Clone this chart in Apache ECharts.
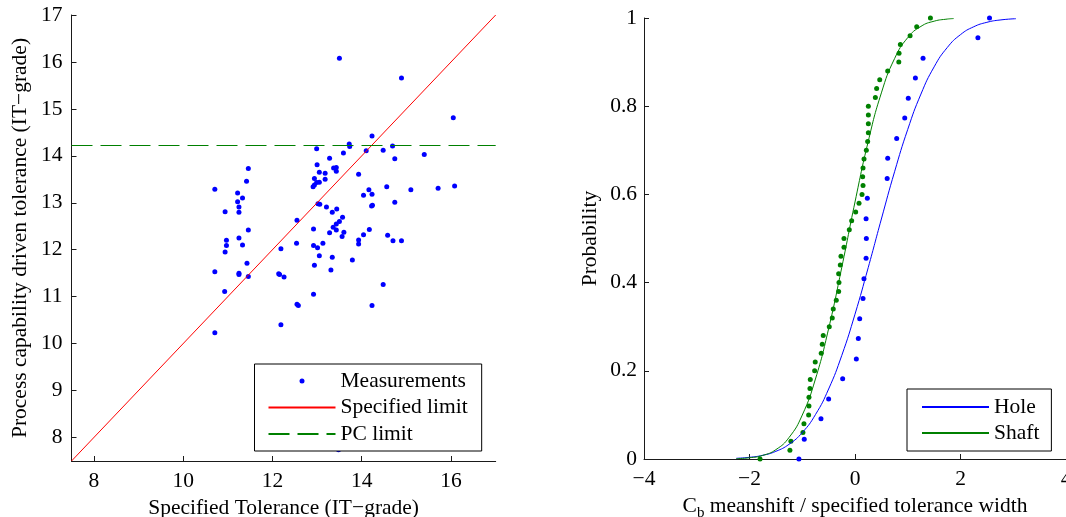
<!DOCTYPE html>
<html>
<head>
<meta charset="utf-8">
<script src="https://cdn.jsdelivr.net/npm/echarts@6/dist/echarts.min.js"></script>
<style>
html,body{margin:0;padding:0;background:#fff;}
#chart{width:1066px;height:517px;}
</style>
</head>
<body>
<div id="chart"></div>
<script>
// ---------- Left panel data ----------
const measX = [13.50,14.89,16.05,14.23,14.69,13.72,13.73,12.99,13.59,14.10,14.48,15.40,14.74,13.28,13.00,13.37,13.43,13.43,13.05,13.18,13.93,12.94,13.18,13.05,12.99,12.91,12.94,14.56,15.71,16.08,15.10,14.16,14.23,14.04,14.74,13.02,13.06,14.24,14.22,13.21,13.44,13.34,13.57,12.55,13.50,13.43,13.36,13.43,12.92,14.17,13.28,13.60,14.04,14.58,13.56,13.93,14.70,14.89,13.93,13.13,12.54,12.92,13.01,12.19,13.05,13.34,13.79,12.94,13.31,12.14,12.16,12.26,14.48,12.92,12.55,12.58,14.23,12.19,13.48,
  10.71,10.71,10.71,10.94,10.97,10.97,10.94,10.93,11.22,11.22,11.25,11.25,11.33,11.42,11.46,11.46,11.25,11.33,11.43,11.25,11.25,11.46];
const measY = [16.08,15.66,14.81,14.42,14.21,14.25,14.20,14.15,14.06,14.11,14.12,14.03,13.94,13.95,13.81,13.74,13.75,13.67,13.65,13.63,13.61,13.52,13.50,13.44,13.43,13.34,13.38,13.34,13.31,13.36,13.28,13.28,13.18,13.16,13.01,12.98,12.97,12.95,12.93,12.91,12.87,12.80,12.69,12.63,12.60,12.55,12.48,12.42,12.44,12.43,12.36,12.37,12.32,12.31,12.28,12.21,12.19,12.19,12.12,12.14,12.14,12.09,12.04,12.02,11.87,11.84,11.78,11.67,11.57,11.49,11.47,11.42,11.26,11.05,10.84,10.81,10.81,10.40,7.74,
  13.29,11.53,10.23,12.81,12.20,12.09,11.95,11.11,13.21,13.02,12.91,12.80,13.10,13.46,13.73,12.42,12.25,12.10,11.71,11.50,11.47,11.43];
const specLimitX = [7.5, 17];
const specLimitY = [7.5, 17];
const pcLimitX = [7.5, 17];
const pcLimitY = [14.22, 14.22];
const leftXTicks = [8, 10, 12, 14, 16];
const leftYTicks = [8, 9, 10, 11, 12, 13, 14, 15, 16, 17];

// ---------- Right panel data ----------
const holeX = [-1.063,-0.962,-0.645,-0.50,-0.234,0.025,0.063,0.089,0.152,0.17,0.21,0.215,0.21,0.234,0.61,0.62,0.79,0.943,1.01,1.145,1.29,2.33,2.55];
const holeProb = [0,0.045,0.091,0.136,0.182,0.227,0.273,0.318,0.364,0.409,0.455,0.5,0.545,0.591,0.636,0.682,0.727,0.773,0.818,0.864,0.909,0.955,1];
const shaftX = [-1.80,-1.234,-1.215,-0.987,-0.968,-0.879,-0.873,-0.873,-0.854,-0.848,-0.765,-0.754,-0.64,-0.621,-0.602,-0.488,-0.431,-0.412,-0.355,-0.31,-0.304,-0.31,-0.279,-0.266,-0.209,-0.209,-0.108,-0.063,0.013,0.076,0.133,0.152,0.145,0.152,0.171,0.215,0.24,0.253,0.253,0.253,0.253,0.386,0.41,0.469,0.62,0.83,0.835,0.86,1.044,1.17,1.43];
const shaftProb = [0,0.02,0.04,0.06,0.08,0.10,0.12,0.14,0.16,0.18,0.20,0.22,0.24,0.26,0.28,0.30,0.32,0.34,0.36,0.38,0.40,0.42,0.44,0.46,0.48,0.50,0.52,0.54,0.56,0.58,0.60,0.62,0.64,0.66,0.68,0.70,0.72,0.74,0.76,0.78,0.80,0.82,0.84,0.86,0.88,0.90,0.92,0.94,0.96,0.98,1];
const holeCurveX = [-2.25,-2.0,-1.75,-1.5,-1.25,-1.0,-0.75,-0.5,-0.25,0,0.25,0.5,0.75,1.0,1.25,1.5,1.75,2.0,2.25,2.5,2.75,3.05];
const holeCurveP = [0.0016,0.0038,0.0084,0.0174,0.0334,0.0599,0.1006,0.1587,0.2351,0.3284,0.4338,0.5442,0.6513,0.7475,0.8275,0.8892,0.9332,0.9623,0.9801,0.9902,0.9955,0.9984];
const shaftCurveX = [-2.25,-2.0,-1.75,-1.5,-1.25,-1.0,-0.75,-0.5,-0.25,0,0.25,0.5,0.75,1.0,1.25,1.5,1.75,1.87];
const shaftCurveP = [0.0008,0.0028,0.0081,0.0212,0.0488,0.0996,0.1814,0.2956,0.4349,0.5828,0.7197,0.8302,0.9079,0.9555,0.9810,0.9928,0.9976,0.9987];

const FONT = 'Liberation Serif';
const FS = 21.5;
const zip = (a, b) => a.map((v, i) => [v, b[i]]);
const minus = v => String(v).replace('-', '\u2212');

const axisCommon = {
  axisLine: { show: true, onZero: false, lineStyle: { color: '#1a1a1a', width: 1 } },
  axisTick: { show: true, inside: true, length: 5, lineStyle: { color: '#1a1a1a' } },
  axisLabel: { color: '#000', fontFamily: FONT, fontSize: FS, margin: 9 },
  splitLine: { show: false },
  nameLocation: 'middle',
  nameTextStyle: { color: '#000', fontFamily: FONT, fontSize: FS }
};
const legendText = { color: '#000', fontFamily: FONT, fontSize: FS, lineHeight: 21 };
const hideSym = { opacity: 0 };

const option = {
  animation: false,
  backgroundColor: '#fff',
  grid: [
    { left: 71.5, top: 15, width: 424.2, height: 446, outerBoundsMode: 'none', containLabel: false },
    { left: 644, top: 18, width: 422, height: 441, outerBoundsMode: 'none', containLabel: false }
  ],
  xAxis: [
    Object.assign({}, axisCommon, {
      type: 'value', gridIndex: 0, min: 7.5, max: 17,
      name: 'Specified Tolerance (IT\u2212grade)', nameGap: 36,
      axisTick: Object.assign({}, axisCommon.axisTick, { customValues: leftXTicks }),
      axisLabel: Object.assign({}, axisCommon.axisLabel, { customValues: leftXTicks, margin: 9 })
    }),
    Object.assign({}, axisCommon, {
      type: 'value', gridIndex: 1, min: -4, max: 4, interval: 2,
      name: 'C{sub|b} meanshift / specified tolerance width', nameGap: 27,
      nameTextStyle: {
        color: '#000', fontFamily: FONT, fontSize: FS,
        rich: { sub: { fontFamily: FONT, fontSize: 15, color: '#000', padding: [15, 0, 0, 0] } }
      },
      axisLabel: Object.assign({}, axisCommon.axisLabel, { formatter: minus, margin: 9 })
    })
  ],
  yAxis: [
    Object.assign({}, axisCommon, {
      type: 'value', gridIndex: 0, min: 7.5, max: 17,
      name: 'Process capability driven tolerance (IT\u2212grade)', nameGap: 40,
      axisTick: Object.assign({}, axisCommon.axisTick, { customValues: leftYTicks }),
      axisLabel: Object.assign({}, axisCommon.axisLabel, { customValues: leftYTicks, margin: 9 })
    }),
    Object.assign({}, axisCommon, {
      type: 'value', gridIndex: 1, min: 0, max: 1, interval: 0.2,
      name: 'Probability', nameGap: 43,
      axisLabel: Object.assign({}, axisCommon.axisLabel, { margin: 7 })
    })
  ],
  legend: [
    {
      left: 254.5, top: 364, orient: 'vertical',
      padding: [6, 14, 6, 13],
      itemWidth: 67, itemHeight: 5, itemGap: 4.5,
      backgroundColor: '#fff', borderColor: '#000', borderWidth: 1,
      selectedMode: false,
      textStyle: legendText,
      data: [
        { name: 'Measurements', icon: 'circle' },
        { name: 'Specified limit', itemStyle: hideSym },
        { name: 'PC limit', itemStyle: hideSym }
      ]
    },
    {
      left: 907, top: 389, orient: 'vertical',
      padding: [7, 12, 7, 14],
      itemWidth: 67, itemHeight: 5, itemGap: 4,
      backgroundColor: '#fff', borderColor: '#000', borderWidth: 1,
      selectedMode: false,
      textStyle: legendText,
      data: [ { name: 'Hole', itemStyle: hideSym }, { name: 'Shaft', itemStyle: hideSym } ]
    }
  ],
  series: [
    {
      name: 'Measurements', type: 'scatter', xAxisIndex: 0, yAxisIndex: 0,
      symbol: 'circle', symbolSize: 5,
      itemStyle: { color: '#0000ff', opacity: 1 },
      data: zip(measX, measY), z: 2
    },
    {
      name: 'Specified limit', type: 'line', xAxisIndex: 0, yAxisIndex: 0,
      symbol: 'none', lineStyle: { color: '#ff0000', width: 1 },
      itemStyle: { color: '#ff0000' },
      data: zip(specLimitX, specLimitY), z: 3
    },
    {
      name: 'PC limit', type: 'line', xAxisIndex: 0, yAxisIndex: 0,
      symbol: 'none', lineStyle: { color: '#008000', width: 1, type: [21, 8] },
      itemStyle: { color: '#008000' },
      data: zip(pcLimitX, pcLimitY), z: 3
    },
    {
      name: 'Hole data', type: 'scatter', xAxisIndex: 1, yAxisIndex: 1,
      symbol: 'circle', symbolSize: 5, itemStyle: { color: '#0000ff', opacity: 1 },
      data: zip(holeX, holeProb)
    },
    {
      name: 'Shaft data', type: 'scatter', xAxisIndex: 1, yAxisIndex: 1,
      symbol: 'circle', symbolSize: 5, itemStyle: { color: '#008000', opacity: 1 },
      data: zip(shaftX, shaftProb)
    },
    {
      name: 'Hole', type: 'line', xAxisIndex: 1, yAxisIndex: 1,
      symbol: 'none', smooth: true,
      lineStyle: { color: '#0000ff', width: 1 }, itemStyle: { color: '#0000ff' },
      data: zip(holeCurveX, holeCurveP)
    },
    {
      name: 'Shaft', type: 'line', xAxisIndex: 1, yAxisIndex: 1,
      symbol: 'none', smooth: true,
      lineStyle: { color: '#008000', width: 1 }, itemStyle: { color: '#008000' },
      data: zip(shaftCurveX, shaftCurveP)
    }
  ]
};

const chart = echarts.init(document.getElementById('chart'), null, { renderer: 'canvas' });
chart.setOption(option);
</script>
</body>
</html>
